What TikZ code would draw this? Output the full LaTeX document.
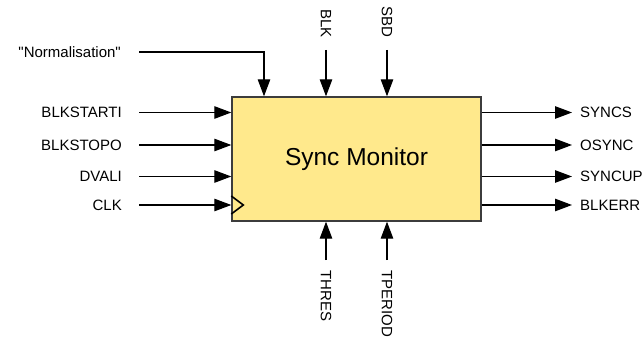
\documentclass[tikz,border=0pt]{standalone}
\usepackage{fontspec}
\setmainfont{Liberation Sans}[Ligatures=TeXOff]
\usetikzlibrary{arrows.meta,positioning}

\definecolor{monfill}{HTML}{FFE98C}
\definecolor{monedge}{HTML}{3C3C3C}

\begin{document}
\begin{tikzpicture}[
  x=1pt,y=-1pt,
  block/.style={draw=monedge,line width=1.4pt,fill=monfill,minimum width=249pt,minimum height=124pt,
    font=\fontsize{24.5}{28}\selectfont},
  sig/.style={font=\fontsize{15}{18}\selectfont,inner sep=0pt},
  wire/.style={line width=1.1pt,-{Triangle[length=17pt,width=12.5pt]}}
]
  \useasboundingbox (0,0) rectangle (643,337);
  \node[block] (mon) at (356.5,159) {Sync Monitor};

  % inputs on the left
  \coordinate (norm-w) at (139,52);
  \coordinate (blkstarti-w) at (139,112.5);
  \coordinate (blkstopo-w) at (139,145);
  \coordinate (dvali-w) at (139,176.5);
  \coordinate (clk-w) at (139,205);
  \node[sig,left=18pt of norm-w] (norm) {"Normalisation"};
  \node[sig,left=17pt of blkstarti-w] (blkstarti) {BLKSTARTI};
  \node[sig,left=17pt of blkstopo-w] (blkstopo) {BLKSTOPO};
  \node[sig,left=17pt of dvali-w] (dvali) {DVALI};
  \node[sig,left=17pt of clk-w] (clk) {CLK};

  \draw[wire] (norm-w) -| ([xshift=-92.5pt]mon.north);
  \draw[wire] (blkstarti-w) -- (blkstarti-w -| mon.west);
  \draw[wire] (blkstopo-w) -- (blkstopo-w -| mon.west);
  \draw[wire] (dvali-w) -- (dvali-w -| mon.west);
  \draw[wire] (clk-w) -- (clk-w -| mon.west);
  \draw[black,line width=1.6pt] (clk-w -| mon.west) ++(0,-9) -- ++(12,9) -- ++(-12,9);

  % inputs on top and bottom
  \coordinate (blk-w) at (326,50);
  \coordinate (sbd-w) at (387,50);
  \coordinate (thres-w) at (326,260);
  \coordinate (tperiod-w) at (387,260);
  \node[sig,rotate=-90,anchor=east] (blk) at ([yshift=12pt]blk-w) {BLK};
  \node[sig,rotate=-90,anchor=east] (sbd) at ([yshift=12pt]sbd-w) {SBD};
  \node[sig,rotate=-90,anchor=west] (thres) at ([yshift=-10pt]thres-w) {THRES};
  \node[sig,rotate=-90,anchor=west] (tperiod) at ([yshift=-10pt]tperiod-w) {TPERIOD};

  \draw[wire] (blk-w) -- (blk-w |- mon.north);
  \draw[wire] (sbd-w) -- (sbd-w |- mon.north);
  \draw[wire] (thres-w) -- (thres-w |- mon.south);
  \draw[wire] (tperiod-w) -- (tperiod-w |- mon.south);

  % outputs on the right
  \coordinate (syncs-e) at (572,112.5);
  \coordinate (osync-e) at (572,145);
  \coordinate (syncup-e) at (572,176.5);
  \coordinate (blkerr-e) at (572,205);
  \node[sig,right=8pt of syncs-e] (syncs) {SYNCS};
  \node[sig,right=8pt of osync-e] (osync) {OSYNC};
  \node[sig,right=8pt of syncup-e] (syncup) {SYNCUP};
  \node[sig,right=8pt of blkerr-e] (blkerr) {BLKERR};

  \draw[wire] (syncs-e -| mon.east) -- (syncs-e);
  \draw[wire] (osync-e -| mon.east) -- (osync-e);
  \draw[wire] (syncup-e -| mon.east) -- (syncup-e);
  \draw[wire] (blkerr-e -| mon.east) -- (blkerr-e);
\end{tikzpicture}
\end{document}
